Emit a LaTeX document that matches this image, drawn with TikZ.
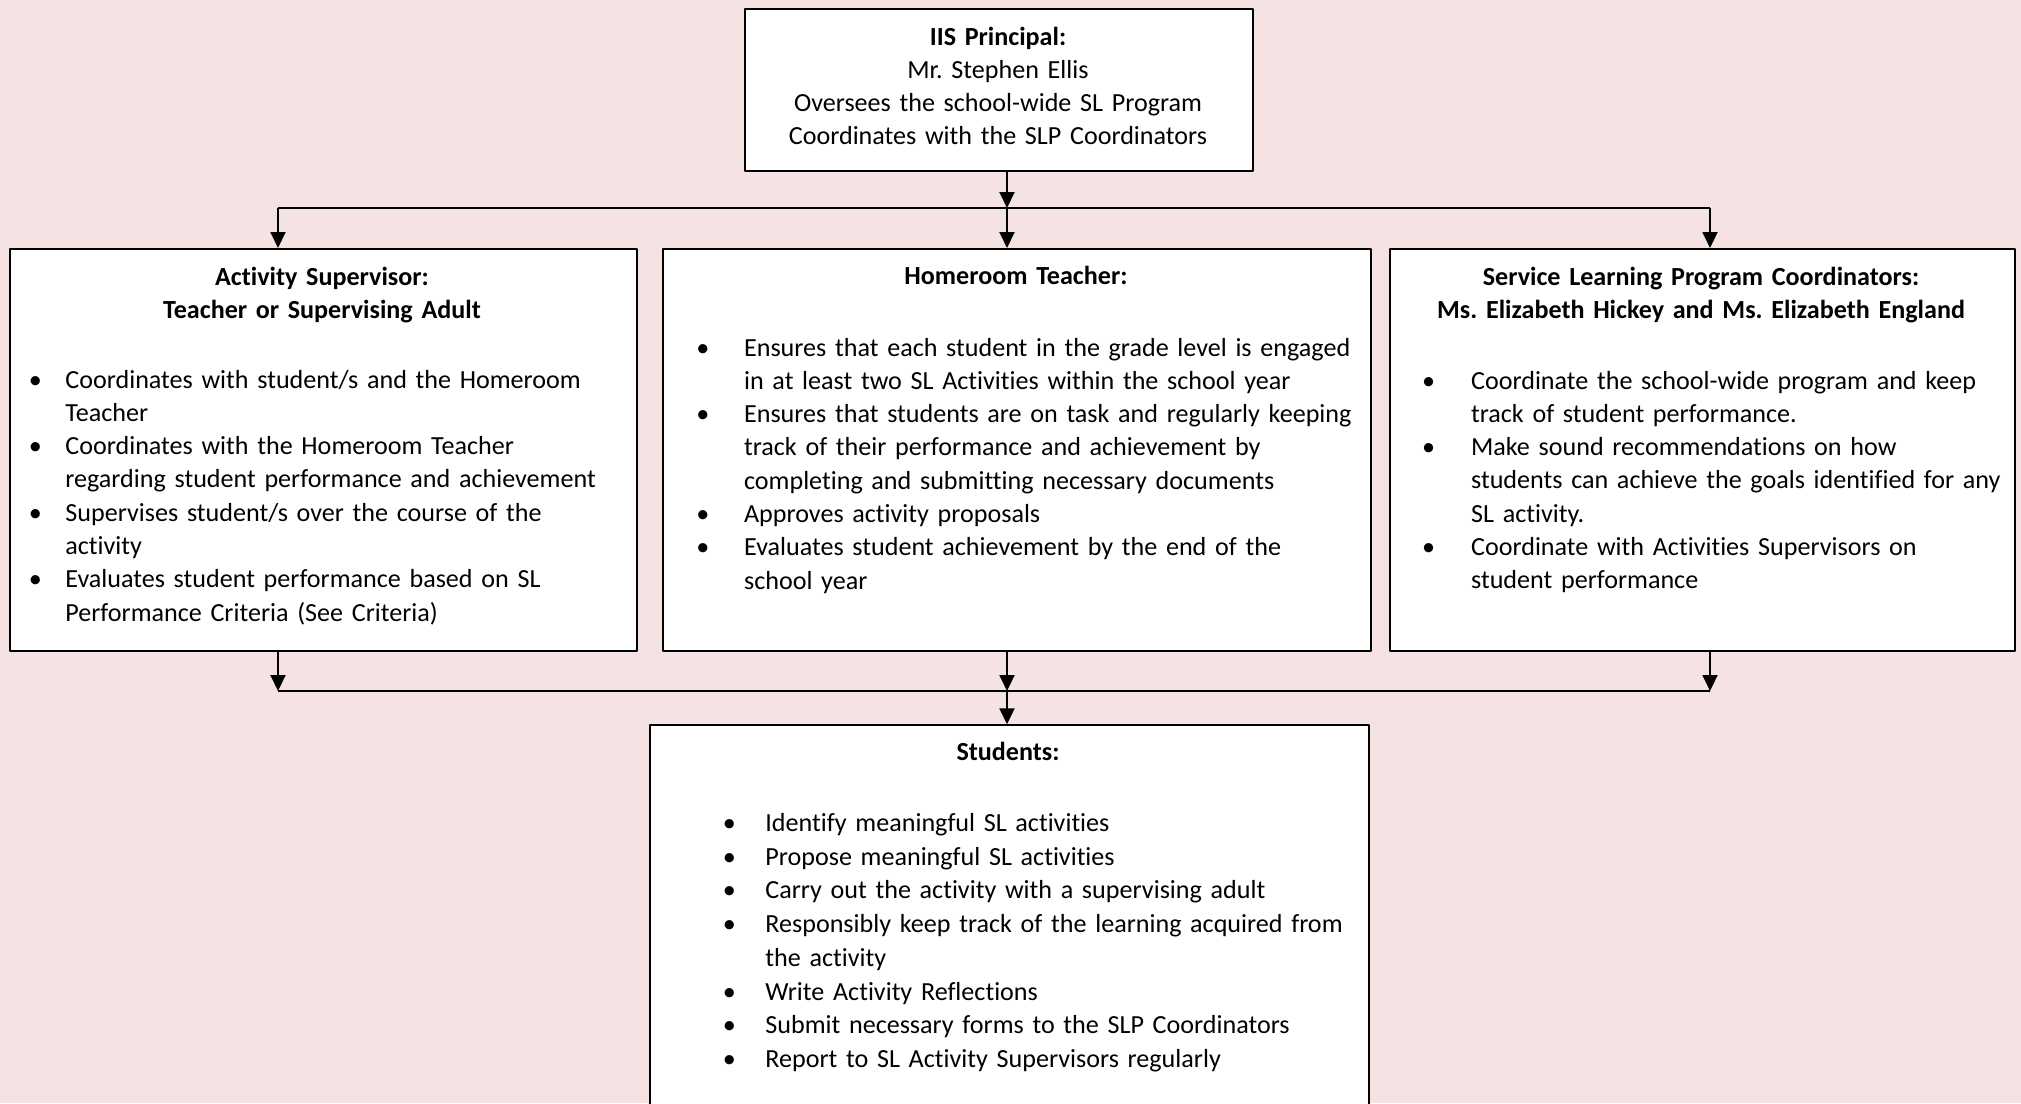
\documentclass[tikz,border=0pt]{standalone}
\usepackage{fontspec}
\setmainfont{Carlito}[Ligatures={NoCommon,NoContextual}, RawFeature={-calt}]
\usetikzlibrary{arrows.meta}
\definecolor{pinkbg}{HTML}{F5E3E3}
\frenchspacing
% bullet item: #1 = distance from bullet to text
\newcommand\bul[1]{\leavevmode\llap{\makebox[0pt]{\textbullet}\hspace{#1}}}
\tikzset{
	box/.style={draw, line width=1pt, fill=white, rectangle, inner sep=0pt, anchor=north west},
	txt/.style={inner sep=0pt, font=\fontsize{13.05}{16.65}\selectfont},
	head/.style={txt, text width=340pt, align=center, anchor=base, font=\fontsize{13.05}{16.65}\selectfont\bfseries},
	lst/.style={txt, text width=340pt, align=left, anchor=base west},
	conn/.style={line width=1pt},
	arr/.style={conn, -{Triangle[length=8pt,width=7.5pt]}}
}
\begin{document}
\begin{tikzpicture}[x=0.5pt, y=-0.5pt, line join=round]
	%Nền
	\useasboundingbox (0,0) rectangle (2021,1103);
	\clip (0,0) rectangle (2021,1103);
	\fill[pinkbg] (0,0) rectangle (2021,1103);
	%Các hộp
	\node[box, minimum width=254pt, minimum height=81.25pt] (prin) at (744,7.5) {};
	\node[box, minimum width=313.35pt, minimum height=201pt] (act) at (9,248) {};
	\node[box, minimum width=354pt, minimum height=201pt] (home) at (662,248) {};
	\node[box, minimum width=312.25pt, minimum height=201pt] (slpc) at (1389,248) {};
	\node[box, minimum width=359.65pt, minimum height=200pt] (stud) at (648.7,724.3) {};
	%Điểm nối
	\coordinate (tl) at (278,208); \coordinate (tm) at (1007,208); \coordinate (tr) at (1710,208);
	\coordinate (bl) at (278,691); \coordinate (bm) at (1007,691); \coordinate (br) at (1710,691);
	%Mũi tên
	\draw[arr] (prin.south -| tm) -- (tm);
	\draw[conn] (tl) -- (tr);
	\foreach \c/\b in {tl/act, tm/home, tr/slpc}
	\draw[arr] (\c) -- (\c |- \b.north);
	\foreach \c/\b in {bl/act, bm/home, br/slpc}
	\draw[arr] (\c |- \b.south) -- (\c);
	\draw[conn] (bl) -- (br);
	\draw[arr] (bm) -- (bm |- stud.north);
	%Chữ
	\node[head, text width=254pt] (prinT) at (998,45) {IIS Principal:\\
		\mdseries Mr. Stephen Ellis\\
		Oversees the school-wide SL Program\\
		Coordinates with the SLP Coordinators};
	\node[head] (actT) at (322,285) {Activity Supervisor:\\Teacher or Supervising Adult};
	\node[head] (homeT) at (1016,284) {Homeroom Teacher:};
	\node[head] (slpcT) at (1701,285) {Service Learning Program Coordinators:\\Ms. Elizabeth Hickey and Ms. Elizabeth England};
	\node[head] (studT) at (1008,760) {Students:};
	\node[lst] (actL) at (65,388) {%
		\bul{15pt}Coordinates with student/s and the Homeroom\\Teacher\par
		\bul{15pt}Coordinates with the Homeroom Teacher\\regarding student performance and achievement\par
		\bul{15pt}Supervises student/s over the course of the\\activity\par
		\bul{15pt}Evaluates student performance based on SL\\Performance Criteria (See Criteria)};
	\node[lst] (homeL) at (743.7,356) {%
		\bul{20.6pt}Ensures that each student in the grade level is engaged\\in at least two SL Activities within the school year\par
		\bul{20.6pt}Ensures that students are on task and regularly keeping\\track of their performance and achievement by\\completing and submitting necessary documents\par
		\bul{20.6pt}Approves activity proposals\par
		\bul{20.6pt}Evaluates student achievement by the end of the\\school year};
	\node[lst] (slpcL) at (1470.7,389) {%
		\bul{21.3pt}Coordinate the school-wide program and keep\\track of student performance.\par
		\bul{21.3pt}Make sound recommendations on how\\students can achieve the goals identified for any\\SL activity.\par
		\bul{21.3pt}Coordinate with Activities Supervisors on\\student performance};
	\node[lst, font=\fontsize{13.05}{16.85}\selectfont] (studL) at (765,831.5) {%
		\bul{18pt}Identify meaningful SL activities\par
		\bul{18pt}Propose meaningful SL activities\par
		\bul{18pt}Carry out the activity with a supervising adult\par
		\bul{18pt}Responsibly keep track of the learning acquired from\\the activity\par
		\bul{18pt}Write Activity Reflections\par
		\bul{18pt}Submit necessary forms to the SLP Coordinators\par
		\bul{18pt}Report to SL Activity Supervisors regularly};
\end{tikzpicture}
\end{document}
